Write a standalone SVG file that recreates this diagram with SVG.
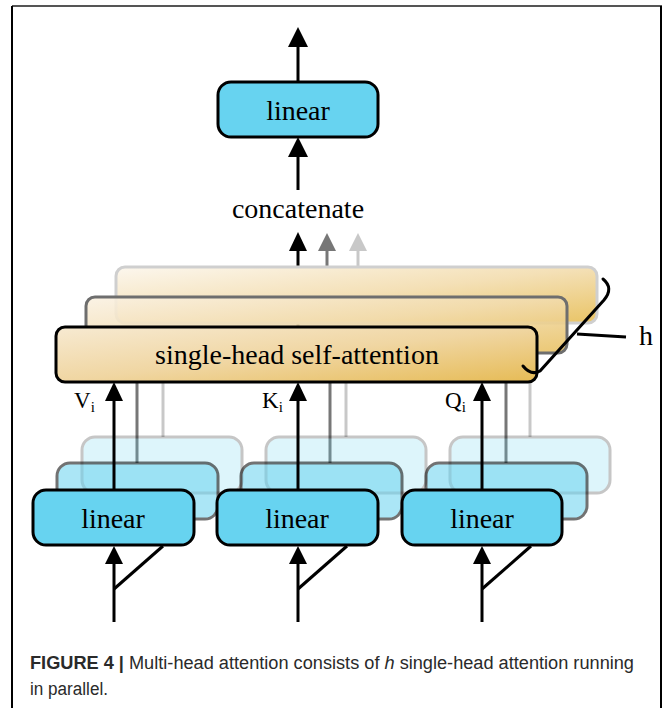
<svg xmlns="http://www.w3.org/2000/svg" width="664" height="708" viewBox="0 0 664 708">
  <defs>
    <linearGradient id="goldFront" x1="0" y1="0" x2="1" y2="1">
      <stop offset="0" stop-color="#f7ead2"/>
      <stop offset="0.5" stop-color="#f0d6a2"/>
      <stop offset="1" stop-color="#e6bb55"/>
    </linearGradient>
    <linearGradient id="goldMid" x1="0" y1="0" x2="1" y2="1">
      <stop offset="0" stop-color="#faf1e2"/>
      <stop offset="0.5" stop-color="#f2dcae"/>
      <stop offset="1" stop-color="#e8c060"/>
    </linearGradient>
    <linearGradient id="goldBack" x1="0" y1="0" x2="1" y2="1">
      <stop offset="0" stop-color="#fcf7ee"/>
      <stop offset="0.5" stop-color="#f4e0b6"/>
      <stop offset="1" stop-color="#e9c466"/>
    </linearGradient>
  </defs>
  <style>
    .frame { stroke-width: 2; fill: none; }
    .serif { font-family: "Liberation Serif", "Times New Roman", serif; fill: #000; }
    .lbl { font-size: 28px; text-anchor: middle; }
    .lin { fill: #67d3f0; stroke: #000; stroke-width: 3; }
    .att { stroke: #000; stroke-width: 3; }
    .ln { stroke-width: 3; fill: none; }
    .blk { stroke: #000; }
    .gry { stroke: #777; }
    .lgt { stroke: #c8c8c8; }
    .cap { font-family: "Liberation Sans", Arial, sans-serif; font-size: 18px; fill: #2a2a2a; }
  </style>

  <!-- figure frame -->
  <line class="frame" x1="12" y1="6" x2="662" y2="6" stroke="#555"/>
  <line class="frame" x1="12" y1="6" x2="12" y2="708" stroke="#000"/>
  <line class="frame" x1="661" y1="6" x2="661" y2="708" stroke="#000"/>

  <!-- connectors -->
  <g id="connectors">
    <!-- output of the top linear layer -->
    <line class="ln blk" x1="298" y1="82" x2="298" y2="46"/>
    <path d="M288,47 L298,27 L308,47 z" fill="#000"/>
    <!-- concatenate to top linear -->
    <line class="ln blk" x1="298" y1="190" x2="298" y2="156"/>
    <path d="M288,157 L298,137 L308,157 z" fill="#000"/>
    <!-- heads to concatenate -->
    <line class="ln lgt" x1="358" y1="268" x2="358" y2="250"/>
    <path d="M349,251 L358,233 L367,251 z" fill="#c8c8c8"/>
    <line class="ln gry" x1="327" y1="297" x2="327" y2="250"/>
    <path d="M318,251 L327,233 L336,251 z" fill="#777"/>
    <line class="ln blk" x1="298" y1="327" x2="298" y2="250"/>
    <path d="M289,251 L298,232 L307,251 z" fill="#000"/>

    <!-- projections into the attention heads (faded copies) -->
    <line class="ln lgt" x1="163" y1="437" x2="163" y2="360"/>
    <line class="ln lgt" x1="346" y1="437" x2="346" y2="360"/>
    <line class="ln lgt" x1="530" y1="437" x2="530" y2="360"/>
    <line class="ln gry" x1="137" y1="463" x2="137" y2="380"/>
    <line class="ln gry" x1="330" y1="463" x2="330" y2="380"/>
    <line class="ln gry" x1="506" y1="463" x2="506" y2="380"/>
  </g>

  <!-- stacked attention heads -->
  <g id="head-back">
    <rect x="116" y="267" width="481" height="56" rx="9" fill="url(#goldBack)" stroke="#cfcfcf" stroke-width="3"/>
  </g>
  <g id="head-mid">
    <rect x="86" y="297" width="481" height="56" rx="9" fill="url(#goldMid)" fill-opacity="0.88" stroke="#6e6e6e" stroke-width="3"/>
  </g>
  <g id="head-front">
    <rect x="56" y="327" width="481" height="55" rx="9" fill="url(#goldFront)" class="att"/>
    <text class="serif lbl" x="297" y="364">single-head self-attention</text>
  </g>

  <!-- brace marking h heads -->
  <g id="brace-h">
    <path d="M523,366 Q531,376 540,371 L604,300 Q614,288 603,279" fill="none" stroke="#000" stroke-width="3" stroke-linecap="round"/>
    <line x1="577" y1="334" x2="626" y2="337" stroke="#000" stroke-width="3"/>
    <text class="serif" x="639" y="345" font-size="28">h</text>
  </g>

  <!-- top linear layer -->
  <g id="linear-out">
    <rect class="lin" x="218" y="82" width="160" height="55" rx="13"/>
    <text class="serif lbl" x="298" y="120">linear</text>
  </g>
  <g id="concat">
    <text class="serif lbl" x="298" y="218">concatenate</text>
  </g>

  <!-- faded linear projections (other heads) -->
  <g id="linear-back" opacity="0.22">
    <rect class="lin" x="82" y="437" width="160" height="56" rx="13"/>
    <rect class="lin" x="266" y="437" width="160" height="56" rx="13"/>
    <rect class="lin" x="450" y="437" width="160" height="56" rx="13"/>
  </g>
  <g id="linear-mid" opacity="0.55">
    <rect class="lin" x="57" y="463" width="161" height="56" rx="13"/>
    <rect class="lin" x="241" y="463" width="161" height="56" rx="13"/>
    <rect class="lin" x="426" y="463" width="161" height="56" rx="13"/>
  </g>

  <!-- V, K, Q into the front head -->
  <g id="vkq-arrows">
    <line class="ln blk" x1="114" y1="490" x2="114" y2="400"/>
    <path d="M105,401 L114,382 L123,401 z" fill="#000"/>
    <line class="ln blk" x1="298" y1="490" x2="298" y2="400"/>
    <path d="M289,401 L298,382 L307,401 z" fill="#000"/>
    <line class="ln blk" x1="482" y1="490" x2="482" y2="400"/>
    <path d="M473,401 L482,382 L491,401 z" fill="#000"/>
  </g>
  <g id="labels-vkq" class="serif" font-size="23">
    <text x="74" y="408">V<tspan font-size="15" dy="4">i</tspan></text>
    <text x="262" y="408">K<tspan font-size="15" dy="4">i</tspan></text>
    <text x="445" y="408">Q<tspan font-size="15" dy="4">i</tspan></text>
  </g>

  <!-- front linear projections -->
  <g id="linear-v">
    <rect class="lin" x="33" y="490" width="161" height="55" rx="13"/>
    <text class="serif lbl" x="113" y="528">linear</text>
  </g>
  <g id="linear-k">
    <rect class="lin" x="217" y="490" width="161" height="55" rx="13"/>
    <text class="serif lbl" x="297" y="528">linear</text>
  </g>
  <g id="linear-q">
    <rect class="lin" x="402" y="490" width="160" height="55" rx="13"/>
    <text class="serif lbl" x="482" y="528">linear</text>
  </g>

  <!-- inputs feeding each projection -->
  <g id="inputs">
    <line class="ln blk" x1="114" y1="622" x2="114" y2="563"/>
    <path d="M105,564 L114,546 L123,564 z" fill="#000"/>
    <line class="ln blk" x1="114" y1="589" x2="163" y2="546"/>
    <line class="ln blk" x1="298" y1="622" x2="298" y2="563"/>
    <path d="M289,564 L298,546 L307,564 z" fill="#000"/>
    <line class="ln blk" x1="298" y1="589" x2="347" y2="546"/>
    <line class="ln blk" x1="482" y1="622" x2="482" y2="563"/>
    <path d="M473,564 L482,546 L491,564 z" fill="#000"/>
    <line class="ln blk" x1="482" y1="589" x2="531" y2="546"/>
  </g>

  <!-- caption -->
  <g id="caption" class="cap">
    <text x="30" y="669" textLength="604" lengthAdjust="spacingAndGlyphs"><tspan font-weight="bold">FIGURE 4</tspan> <tspan font-weight="bold">|</tspan> Multi-head attention consists of <tspan font-style="italic">h</tspan> single-head attention running</text>
    <text x="30" y="695" textLength="78" lengthAdjust="spacingAndGlyphs">in parallel.</text>
  </g>
</svg>
